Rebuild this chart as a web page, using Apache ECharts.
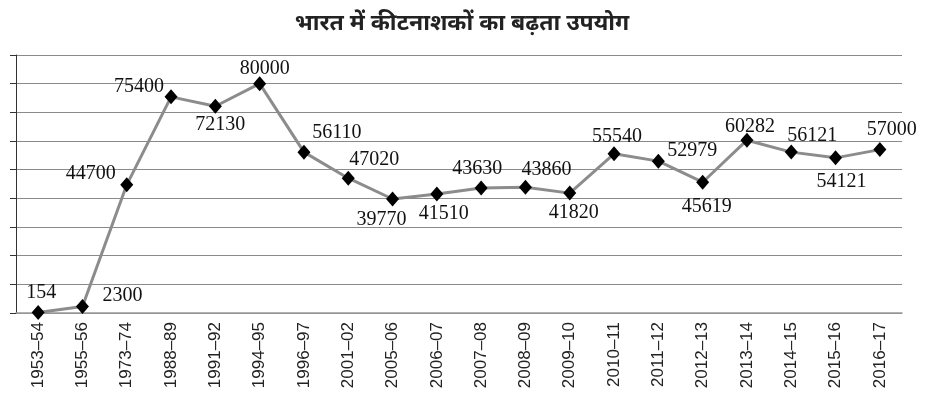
<!DOCTYPE html>
<html><head><meta charset="utf-8">
<script src="https://cdn.jsdelivr.net/npm/echarts@6/dist/echarts.min.js"></script>
<style>html,body{margin:0;padding:0;background:#fff}#c{width:929px;height:395px}</style>
</head><body><div id="c"></div>
<script>
const titleText = 'भारत में कीटनाशकों का बढ़ता उपयोग';
const categories = ['1953-54','1955-56','1973-74','1988-89','1991-92','1994-95','1996-97','2001-02','2005-06','2006-07','2007-08','2008-09','2009-10','2010-11','2011-12','2012-13','2013-14','2014-15','2015-16','2016-17'];
const values = [154,2300,44700,75400,72130,80000,56110,47020,39770,41510,43630,43860,41820,55540,52979,45619,60282,56121,54121,57000];
const labelOffsets = [[3,-20],[40,-11],[-36,-11],[-32,-10],[5,19],[5,-15],[33,-19],[26,-18],[-11,21],[7,20],[-4,-19],[21,-18],[4,20],[3,-17],[34,-10],[4,25],[3,-13],[21,-16],[6,24],[12,-20]];

const chart = echarts.init(document.getElementById('c'));
chart.setOption({
  animation:false,
  title:{text:titleText,left:457,top:7,textAlign:'center',
    textStyle:{fontSize:23,fontWeight:'bold',color:'#222',fontFamily:'"Noto Sans", sans-serif'}},
  grid:{left:16,right:27,top:55,bottom:82},
  xAxis:{type:'category',data:categories,boundaryGap:true,
    axisLine:{lineStyle:{color:'#999',width:1.5}},
    axisTick:{show:false},
    axisLabel:{rotate:90,fontSize:17,color:'#222',fontFamily:'"Liberation Sans", Arial',margin:9,interval:0,
      formatter:v=>v.replace('-','–')},
    splitLine:{show:false}},
  yAxis:{type:'value',min:0,max:90000,interval:10000,
    axisLine:{show:true,lineStyle:{color:'#333',width:1}},
    axisTick:{show:true,length:6,lineStyle:{color:'#333'}},
    axisLabel:{show:false},
    splitLine:{lineStyle:{color:'#8a8a8a',width:1}}},
  series:[{type:'line',
    data:values.map((v,i)=>({value:v,label:{offset:labelOffsets[i]}})),
    symbol:'diamond',symbolSize:[13,15],
    itemStyle:{color:'#000'},
    lineStyle:{color:'#8c8c8c',width:3},
    label:{show:true,position:'inside',align:'center',verticalAlign:'middle',
      fontFamily:'"Liberation Serif", "Times New Roman", serif',fontSize:20,color:'#111'}
  }]
});
</script></body></html>
